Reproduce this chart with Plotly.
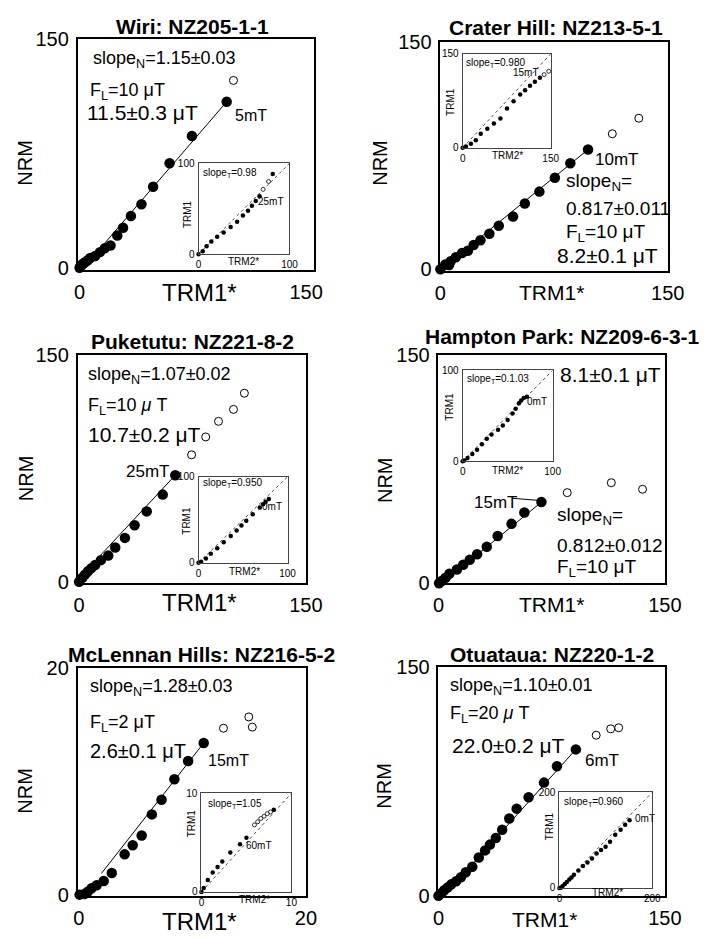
import plotly.graph_objects as go

W, H = 708, 940
FONT = "Liberation Sans, Arial, Helvetica, sans-serif"

# ---------------- data (main panels: NRM vs TRM1*) ----------------
wiri_x = [0, 0.5, 1.3, 2.5, 3.8, 5.5, 7.1, 10.3, 13.5, 16.7, 20.5, 25.0, 28.8, 34.0, 41.0, 48.7, 59.6, 74.4, 97.4]
wiri_y = [0, 0.8, 1.9, 2.8, 3.8, 5.0, 6.4, 7.7, 10.3, 12.8, 14.7, 21.2, 26.3, 34.0, 41.7, 53.2, 68.6, 86.5, 109.0]
wiri_ox = [101.9]
wiri_oy = [123.0]

crater_x = [0, 3.2, 5.7, 6.8, 10.2, 14.3, 18.1, 21.9, 26.4, 32.3, 38.5, 47.9, 55.7, 65.3, 75.5, 85.7, 97.4]
crater_y = [0, 3.2, 2.8, 5.3, 7.9, 10.7, 12.2, 16.0, 19.2, 23.5, 28.8, 34.8, 43.4, 51.3, 60.5, 70.1, 79.1]
crater_ox = [113.4, 130.9]
crater_oy = [89.5, 99.8]

puke_x = [0, 2.1, 3.8, 5.9, 8.1, 10.6, 14.4, 19.3, 23.9, 30.3, 36.7, 44.7, 55.3, 63.6]
puke_y = [0, 2.6, 4.7, 6.9, 9.0, 11.1, 14.3, 17.3, 22.6, 29.0, 37.3, 46.5, 57.6, 70.4]
puke_ox = [74.4, 83.7, 92.2, 102.1, 109.3]
puke_oy = [83.9, 95.7, 106.0, 113.9, 124.6]

hamp_x = [0.4, 2.1, 4.7, 7.2, 12.2, 16.4, 20.7, 25.6, 32.0, 39.2, 48.4, 56.9, 68.2]
hamp_y = [0, 1.5, 3.6, 6.2, 9.0, 12.2, 15.4, 19.1, 24.0, 31.0, 39.0, 46.5, 53.3]
hamp_ox = [85.3, 114.5, 135.2]
hamp_oy = [59.5, 66.0, 61.7]

mcl_x = [0.08, 0.5, 0.79, 1.13, 1.58, 2.2, 2.91, 4.04, 4.75, 5.54, 6.44, 7.29, 8.42, 9.63, 11.0]
mcl_y = [0, 0.06, 0.26, 0.57, 0.83, 1.2, 1.92, 3.56, 4.36, 5.22, 7.09, 8.38, 10.2, 11.8, 13.4]
mcl_ox = [12.74, 14.97, 15.28]
mcl_oy = [14.7, 15.7, 14.8]

otu_x = [0, 2.1, 3.8, 6.0, 8.5, 11.7, 14.9, 18.1, 22.4, 26.7, 30.9, 34.1, 38.0, 42.2, 46.9, 51.8, 59.7, 69.9, 78.5, 91.0]
otu_y = [0, 1.9, 3.6, 5.4, 7.5, 9.6, 12.2, 15.4, 19.1, 25.1, 29.8, 33.6, 37.9, 43.3, 50.7, 57.2, 64.7, 74.3, 85.0, 96.1]
otu_ox = [104.5, 114.1, 119.4]
otu_oy = [105.4, 109.6, 110.3]

# fit lines: slope, intercept, x-start, x-end
fit_slope = [1.15, 0.817, 1.07, 0.812, 1.28, 1.10]
fit_icpt = [-3.0, -0.5, 2.35, -2.1, -0.68, -4.0]
fit_x0 = [16.0, 3.0, 1.0, 5.0, 2.0, 10.0]
fit_x1 = [97.4, 97.4, 63.6, 68.2, 11.0, 91.0]

# ---------------- data (insets: TRM1 vs TRM2*) ----------------
i_wiri_x = [0, 4.6, 8.8, 14.1, 20.5, 27.6, 35.3, 42.4, 48.8, 54.4, 58.7, 62.9, 67.1, 81.6]
i_wiri_y = [0, 3.2, 8.6, 13.9, 19.3, 23.9, 30.0, 35.7, 42.5, 47.9, 53.2, 58.6, 63.9, 88.2]
i_wiri_ox = [71.0, 77.0]
i_wiri_oy = [71.4, 80.0]

i_crat_x = [0, 5.6, 14.0, 22.4, 30.8, 42.0, 53.2, 64.3, 75.5, 86.7, 98.0, 106.3, 114.7, 123.0, 131.5]
i_crat_y = [0, 2.0, 6.4, 11.8, 22.5, 30.5, 38.6, 46.6, 62.7, 74.5, 85.0, 92.0, 99.0, 105.5, 112.0]
i_crat_ox = [138.8, 146.6]
i_crat_oy = [117.0, 122.3]

i_puke_x = [0, 2.9, 8.3, 13.8, 21.0, 28.3, 36.2, 42.8, 48.2, 53.6, 60.9, 68.8, 72.5, 75.4, 79.0]
i_puke_y = [0, 1.1, 4.9, 10.6, 17.0, 23.8, 31.3, 37.7, 43.4, 49.0, 56.6, 64.2, 68.0, 71.0, 74.3]

i_hamp_x = [0, 1.8, 5.4, 10.7, 16.0, 21.4, 26.8, 32.1, 39.3, 44.6, 50.0, 55.4, 58.9, 62.5, 65.0, 67.9, 71.4]
i_hamp_y = [0, 0.7, 3.6, 7.9, 12.5, 18.6, 24.6, 29.3, 34.6, 39.3, 45.4, 52.5, 57.9, 63.9, 66.8, 69.6, 71.1]

i_mcl_x = [0, 0.25, 0.71, 1.25, 1.79, 2.32, 3.21, 4.29, 5.0, 8.04]
i_mcl_y = [0, 0.39, 1.21, 1.97, 2.52, 3.08, 4.0, 4.82, 5.48, 8.33]
i_mcl_ox = [5.89, 6.25, 6.6, 6.96, 7.32, 7.68]
i_mcl_oy = [6.79, 7.11, 7.44, 7.67, 7.93, 8.1]

i_otu_x = [0, 3.2, 7.0, 11.7, 16.0, 21.4, 26.0, 31.2, 40.9, 50.6, 60.4, 70.1, 79.9, 89.6, 99.4, 109.0, 120.1, 131.8, 141.6, 151.0]
i_otu_y = [0, 0.7, 4.0, 8.5, 12.5, 17.7, 22.0, 27.6, 36.7, 45.9, 53.0, 61.5, 72.1, 79.2, 86.2, 96.8, 111.0, 121.6, 132.2, 141.3]

titles = ["Wiri: NZ205-1-1", "Crater Hill: NZ213-5-1", "Puketutu: NZ221-8-2",
          "Hampton Park: NZ209-6-3-1", "McLennan Hills: NZ216-5-2", "Otuataua: NZ220-1-2"]
main_max = [150, 150, 150, 150, 20, 150]
inset_max = [100, 150, 100, 100, 10, 200]
slope_t = ["0.98", "0.980", "0.950", "0.1.03", "1.05", "0.960"]
demag = ["25mT", "15mT", "0mT", "0mT", "60mT", "0mT"]

# ---------------- layout geometry (pixels) ----------------
main_box = [(74, 318, 29, 265), (449, 684, 32, 266), (74, 310, 352, 586),
            (447, 681, 352, 586), (74, 310, 673, 906), (447, 681, 672, 906)]
main_xr = [[-1.3, 155], [0, 150], [-1, 150], [0, 150], [-0.1, 20], [0, 150]]
main_yr = [[-1.3, 150], [-1, 150], [-1, 150], [0, 150], [-0.1, 20], [0, 150]]
inset_box = [(199, 293, 156, 249), (472, 563, 44, 140), (199, 291, 477, 565),
             (472, 565, 368, 461), (202, 295, 801, 902), (572, 668, 800, 898)]

mains = [(wiri_x, wiri_y, wiri_ox, wiri_oy), (crater_x, crater_y, crater_ox, crater_oy),
         (puke_x, puke_y, puke_ox, puke_oy), (hamp_x, hamp_y, hamp_ox, hamp_oy),
         (mcl_x, mcl_y, mcl_ox, mcl_oy), (otu_x, otu_y, otu_ox, otu_oy)]
insets = [(i_wiri_x, i_wiri_y, i_wiri_ox, i_wiri_oy), (i_crat_x, i_crat_y, i_crat_ox, i_crat_oy),
          (i_puke_x, i_puke_y, [], []), (i_hamp_x, i_hamp_y, [], []),
          (i_mcl_x, i_mcl_y, i_mcl_ox, i_mcl_oy), (i_otu_x, i_otu_y, [], [])]

fig = go.Figure()
layout = {}
anns = []


def ann(text, px, py, size, xanchor="center", angle=0, yanchor="middle"):
    anns.append(dict(text=text, x=px / W, y=1 - py / H, xref="paper", yref="paper",
                     xanchor=xanchor, yanchor=yanchor, showarrow=False, textangle=angle,
                     font=dict(family=FONT, size=size, color="black")))


def axis_pair(k, box, xr, yr, tick, fsize, lw, lc):
    l, r, t, b = box
    sx = "" if k == 1 else str(k)
    common = dict(showline=True, mirror=True, linecolor=lc, linewidth=lw,
                  showgrid=False, zeroline=False, ticks="", tickvals=[0, tick],
                  tickfont=dict(family=FONT, size=fsize, color="black"),
                  ticklabelstandoff=3 if fsize > 12 else 1, fixedrange=True)
    layout["xaxis" + sx] = dict(domain=[l / W, r / W], range=xr, anchor="y" + sx, **common)
    layout["yaxis" + sx] = dict(domain=[1 - b / H, 1 - t / H], range=yr, anchor="x" + sx, **common)
    return "x" + sx, "y" + sx


for i in range(6):
    xa, ya = axis_pair(i + 1, main_box[i], main_xr[i], main_yr[i], main_max[i], 20, 1.6, "black")
    fx, fy, ox, oy = mains[i]
    lx = [fit_x0[i], fit_x1[i]]
    ly = [fit_slope[i] * v + fit_icpt[i] for v in lx]
    fig.add_trace(go.Scatter(x=lx, y=ly, mode="lines", line=dict(color="black", width=1),
                             xaxis=xa, yaxis=ya, showlegend=False, hoverinfo="skip"))
    fig.add_trace(go.Scatter(x=fx, y=fy, mode="markers", cliponaxis=False,
                             marker=dict(color="black", size=10.5, line=dict(width=0)),
                             xaxis=xa, yaxis=ya, showlegend=False))
    fig.add_trace(go.Scatter(x=ox, y=oy, mode="markers", cliponaxis=False,
                             marker=dict(color="white", size=8, line=dict(color="black", width=1)),
                             xaxis=xa, yaxis=ya, showlegend=False))

for i in range(6):
    m = inset_max[i]
    xa, ya = axis_pair(i + 7, inset_box[i], [0, m], [0, m], m, 10, 1, "#444444")
    ix, iy, iox, ioy = insets[i]
    fig.add_trace(go.Scatter(x=[0, m], y=[0, m], mode="lines",
                             line=dict(color="black", width=0.7, dash="dot"),
                             xaxis=xa, yaxis=ya, showlegend=False, hoverinfo="skip"))
    fig.add_trace(go.Scatter(x=ix, y=iy, mode="markers", cliponaxis=False,
                             marker=dict(color="black", size=4.5, line=dict(width=0)),
                             xaxis=xa, yaxis=ya, showlegend=False))
    fig.add_trace(go.Scatter(x=iox, y=ioy, mode="markers", cliponaxis=False,
                             marker=dict(color="white", size=4, line=dict(color="black", width=0.8)),
                             xaxis=xa, yaxis=ya, showlegend=False))

# titles (left edges from the reference)
title_pos = [(112, 16), (456, 17), (86, 338), (431, 333), (62, 659), (457, 659)]
for t, (px, py) in zip(titles, title_pos):
    ann("<b>" + t + "</b>", px, py, 21, xanchor="left")

# main axis titles
nrm_pos = [(20, 155), (387, 155), (20, 478), (391, 480), (20, 798), (391, 793)]
trm_pos = [(200, 288), (564, 288), (200, 606), (564, 608), (200, 932), (557, 930)]
for i in range(6):
    ann("NRM", nrm_pos[i][0], nrm_pos[i][1], 20, angle=-90)
    ann("TRM1*", trm_pos[i][0], trm_pos[i][1], 24 if i % 2 == 0 else 21)

# inset texts
slope_pos = [(202, 166), (473, 53), (202, 483), (474, 377), (207, 812), (575, 810)]
demag_pos = [(274, 195), (537, 63), (275, 507), (549, 400), (262, 855), (660, 827)]
trm1_pos = [(187, 208), (460, 93), (187, 522), (458, 405), (192, 832), (562, 835)]
trm2_pos = [(245, 257), (518, 148), (247, 574), (518, 470), (257, 910), (622, 903)]
for i in range(6):
    ann("slope<sub>T</sub>=" + slope_t[i], slope_pos[i][0], slope_pos[i][1], 10, xanchor="left")
    ann(demag[i], demag_pos[i][0], demag_pos[i][1], 10)
    ann("TRM1", trm1_pos[i][0], trm1_pos[i][1], 10, angle=-90)
    ann("TRM2*", trm2_pos[i][0], trm2_pos[i][1], 10)

# main panel annotations
ann("slope<sub>N</sub>=1.15±0.03", 88, 50, 18, xanchor="left")
ann("F<sub>L</sub>=10 μT", 85, 82, 18, xanchor="left")
ann("11.5±0.3 μT", 82, 104, 21, xanchor="left")
ann("5mT", 253, 107, 16)

ann("10mT", 631, 152, 17)
ann("slope<sub>N</sub>=", 577, 175, 19, xanchor="left")
ann("0.817±0.011", 577, 202, 19, xanchor="left")
ann("F<sub>L</sub>=10 μT", 577, 227, 19, xanchor="left")
ann("8.2±0.1 μT", 567, 250, 21, xanchor="left")

ann("slope<sub>N</sub>=1.07±0.02", 83, 373, 18, xanchor="left")
ann("F<sub>L</sub>=10 <i>μ</i> T", 83, 405, 18, xanchor="left")
ann("10.7±0.2 μT", 83, 434, 21, xanchor="left")
ann("25mT", 171, 472, 17, xanchor="right")

ann("8.1±0.1 μT", 571, 372, 21, xanchor="left")
ann("15mT", 506, 503, 17)
ann("slope<sub>N</sub>=", 567, 517, 19, xanchor="left")
ann("0.812±0.012", 567, 547, 19, xanchor="left")
ann("F<sub>L</sub>=10 μT", 567, 570, 19, xanchor="left")

ann("slope<sub>N</sub>=1.28±0.03", 85, 693, 18, xanchor="left")
ann("F<sub>L</sub>=2 μT", 85, 730, 18, xanchor="left")
ann("2.6±0.1 μT", 85, 758, 20, xanchor="left")
ann("15mT", 230, 767, 16)

ann("slope<sub>N</sub>=1.10±0.01", 457, 692, 18, xanchor="left")
ann("F<sub>L</sub>=20 <i>μ</i> T", 457, 720, 18, xanchor="left")
ann("22.0±0.2 μT", 459, 752, 21, xanchor="left")
ann("6mT", 616, 767, 17)

shapes = [dict(type="line", xref="paper", yref="paper", x0=524 / W, y0=1 - 499 / H,
               x1=549 / W, y1=1 - 501 / H, line=dict(color="black", width=1))]

fig.update_layout(width=W, height=H, margin=dict(l=0, r=0, t=0, b=0),
                  paper_bgcolor="white", plot_bgcolor="white",
                  font=dict(family=FONT, color="black"),
                  annotations=anns, shapes=shapes, showlegend=False, **layout)

fig.write_html("out.html")
